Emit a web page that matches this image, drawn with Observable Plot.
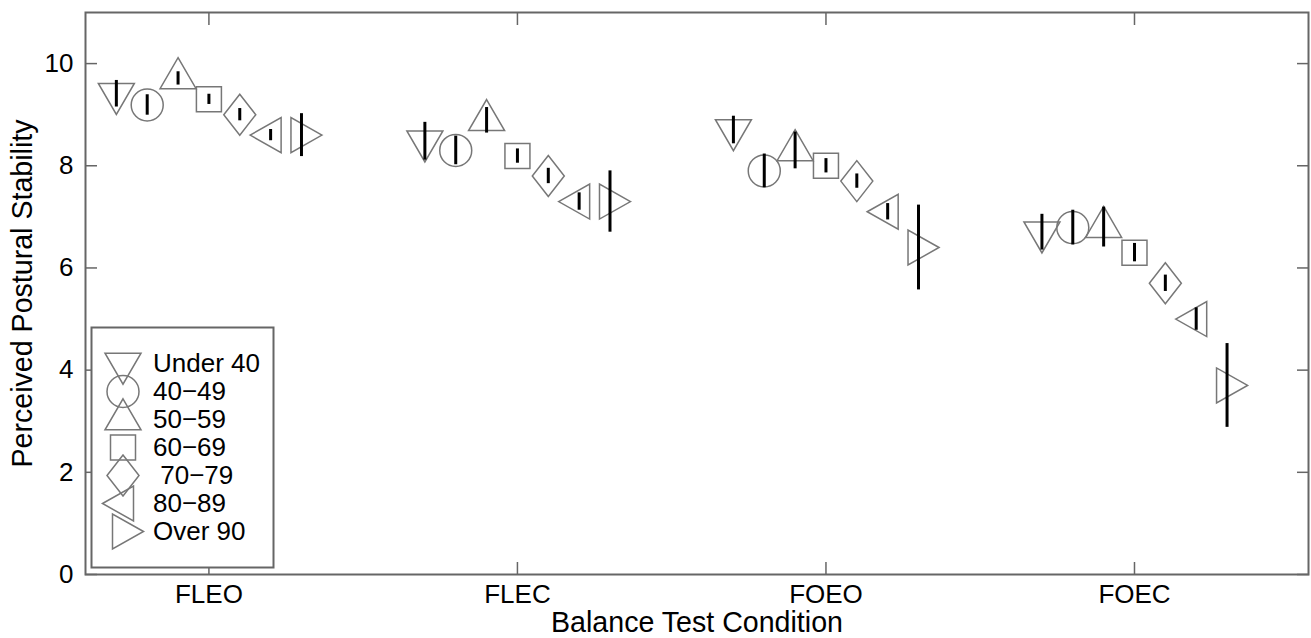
<!DOCTYPE html>
<html><head><meta charset="utf-8">
<script src="https://cdn.jsdelivr.net/npm/d3@7"></script>
<script src="https://cdn.jsdelivr.net/npm/@observablehq/plot@0.6"></script>
<style>
body{margin:0;background:#fff;}
#wrap{position:relative;width:1311px;height:638px;}
#legend{position:absolute;left:91px;top:327px;}
</style></head><body><div id="wrap"><div id="chart"></div><div id="legend"></div></div>
<script>
const conditions = ["FLEO", "FLEC", "FOEO", "FOEC"];
const groups = ["Under 40", "40\u221249", "50\u221259", "60\u221269", "\u00a070\u221279", "80\u221289", "Over 90"];
const yTicks = [0, 2, 4, 6, 8, 10];

// mean perceived stability per age group, one value per condition
const under40 = [9.41, 8.48, 8.70, 6.70];
const age40s  = [9.19, 8.30, 7.90, 6.79];
const age50s  = [9.71, 8.89, 8.30, 6.80];
const age60s  = [9.30, 8.19, 8.00, 6.30];
const age70s  = [9.00, 7.80, 7.70, 5.70];
const age80s  = [8.60, 7.30, 7.10, 5.00];
const over90  = [8.60, 7.30, 6.40, 3.70];

// error bar half-lengths
const errUnder40 = [0.26, 0.37, 0.27, 0.35];
const err40s     = [0.20, 0.28, 0.33, 0.34];
const err50s     = [0.13, 0.25, 0.36, 0.39];
const err60s     = [0.10, 0.14, 0.14, 0.18];
const err70s     = [0.12, 0.15, 0.14, 0.16];
const err80s     = [0.11, 0.17, 0.16, 0.22];
const errOver90  = [0.42, 0.60, 0.83, 0.82];

const means = [under40, age40s, age50s, age60s, age70s, age80s, over90];
const errors = [errUnder40, err40s, err50s, err60s, err70s, err80s, errOver90];

function poly(pts) {
  return {draw(ctx) {
    ctx.moveTo(pts[0][0], pts[0][1]);
    for (let i = 1; i < pts.length; i++) ctx.lineTo(pts[i][0], pts[i][1]);
    ctx.closePath();
  }};
}
const symbols = [
  poly([[-18, -10.3], [18, -10.3], [0, 20.7]]),
  {draw(ctx) { ctx.moveTo(16, 0); ctx.arc(0, 0, 16, 0, 2 * Math.PI); ctx.closePath(); }},
  poly([[0, -20.7], [18, 10.3], [-18, 10.3]]),
  poly([[-12.5, -12.5], [12.5, -12.5], [12.5, 12.5], [-12.5, 12.5]]),
  poly([[0, -20.5], [16, 0], [0, 20.5], [-16, 0]]),
  poly([[-20.5, 0], [10.5, -17.5], [10.5, 17.5]]),
  poly([[20.5, 0], [-10.5, -17.5], [-10.5, 17.5]])
];

const font = "'Liberation Sans', Arial, Helvetica, sans-serif";
const axisGray = "#666";
const markerGray = "#777";
const noText = () => "";

const rows = groups.map((g, gi) => conditions.map((c, ci) => ({
  group: g, gi, cond: c,
  x: ci + 1 + (gi - 3) * 0.1,
  y: means[gi][ci],
  err: errors[gi][ci]
})));

const marks = [
  Plot.axisY(yTicks, {anchor: "left", tickSize: 12, dx: 12, tickFormat: noText, stroke: axisGray, strokeWidth: 1.5, label: null}),
  Plot.axisY(yTicks, {anchor: "right", tickSize: 12, dx: -12, tickFormat: noText, stroke: axisGray, strokeWidth: 1.5, label: null}),
  Plot.axisX([1, 2, 3, 4], {anchor: "bottom", tickSize: 12, dy: -12, tickFormat: noText, stroke: axisGray, strokeWidth: 1.5, label: null}),
  Plot.axisX([1, 2, 3, 4], {anchor: "top", tickSize: 12, dy: 12, tickFormat: noText, stroke: axisGray, strokeWidth: 1.5, label: null}),
  Plot.axisY(yTicks, {anchor: "left", tickSize: 0, tickPadding: 12, fill: "black", label: null, tickFormat: d => String(d)}),
  Plot.axisX([1, 2, 3, 4], {anchor: "bottom", tickSize: 0, tickPadding: 10, fill: "black", label: null, tickFormat: d => conditions[d - 1]}),
  Plot.frame({stroke: axisGray, strokeWidth: 2}),
  Plot.text(["Balance Test Condition"], {frameAnchor: "bottom", dy: 57, fill: "black", fontSize: 28.6, textAnchor: "middle"}),
  Plot.text(["Perceived Postural Stability"], {frameAnchor: "left", dx: -63, rotate: -90, fill: "black", fontSize: 28.6, textAnchor: "middle"})
];
rows.forEach((data, gi) => {
  marks.push(Plot.dot(data, {x: "x", y: "y", symbol: symbols[gi], stroke: markerGray, fill: "none", strokeWidth: 1.5}));
  marks.push(Plot.ruleX(data, {x: "x", y1: d => d.y - d.err, y2: d => d.y + d.err, stroke: "black", strokeWidth: 3}));
});

const chart = Plot.plot({
  width: 1311, height: 638,
  marginLeft: 85, marginRight: 3, marginTop: 12, marginBottom: 64,
  style: {fontFamily: font, fontSize: "26px", color: "black", background: "#fff", overflow: "visible"},
  x: {domain: [0.6, 4.564], label: null},
  y: {domain: [0, 11], label: null},
  marks
});
document.getElementById("chart").appendChild(chart);

const legend = Plot.plot({
  width: 182, height: 240, margin: 0,
  style: {fontFamily: font, fontSize: "26px", color: "black", background: "#fff", overflow: "visible"},
  x: {axis: null},
  y: {type: "point", domain: groups, range: [19.5, 219.5], axis: null},
  marks: [
    Plot.frame({stroke: axisGray, strokeWidth: 2, fill: "#fff"}),
    ...groups.map((g, i) => Plot.dot([g], {y: d => d, frameAnchor: "left", dx: 31.5, symbol: symbols[i], stroke: markerGray, fill: "none", strokeWidth: 1.5})),
    Plot.text(groups, {y: d => d, frameAnchor: "left", dx: 61.5, textAnchor: "start", fill: "black"})
  ]
});
document.getElementById("legend").appendChild(legend);
</script></body></html>
